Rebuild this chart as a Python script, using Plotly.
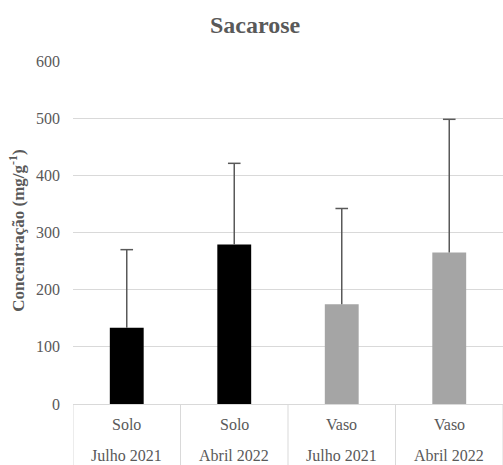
import plotly.graph_objects as go

# Sucrose concentration per location and sampling date
locais = ["Solo", "Solo", "Vaso", "Vaso"]
datas = ["Julho 2021", "Abril 2022", "Julho 2021", "Abril 2022"]
media = [133.5, 279, 174.5, 265]
desvio = [136.5, 142, 167.5, 233]
cores = ["#000000", "#000000", "#a5a5a5", "#a5a5a5"]

FONTE = "'Times New Roman', 'Liberation Serif', serif"
CINZA = "#595959"
LINHA = "#d9d9d9"

idx = list(range(len(media)))
topo = [m + d for m, d in zip(media, desvio)]

fig = go.Figure()
fig.add_trace(
    go.Bar(
        x=idx,
        y=media,
        width=0.315,
        marker=dict(color=cores, line=dict(width=0)),
        hoverinfo="skip",
    )
)

# upper-only error bars: stem from bar top to mean + sd, cap at the end
stem_x, stem_y = [], []
for i, m, t in zip(idx, media, topo):
    stem_x += [i, i, None]
    stem_y += [m, t, None]
fig.add_trace(
    go.Scatter(x=stem_x, y=stem_y, mode="lines",
               line=dict(color=CINZA, width=1.5), hoverinfo="skip")
)
fig.add_trace(
    go.Scatter(x=idx, y=topo, mode="markers",
               marker=dict(symbol="line-ew", size=9,
                           line=dict(color=CINZA, width=1.5)),
               hoverinfo="skip")
)

# two-row category labels under each bar
for i, (loc, dt) in enumerate(zip(locais, datas)):
    fig.add_annotation(x=i, y=-0.061, xref="x", yref="paper", text=loc,
                       showarrow=False, yanchor="middle",
                       font=dict(family=FONTE, size=16, color=CINZA))
    fig.add_annotation(x=i, y=-0.149, xref="x", yref="paper", text=dt,
                       showarrow=False, yanchor="middle",
                       font=dict(family=FONTE, size=16, color=CINZA))

# vertical dividers between categories
for b in [i - 0.5 for i in idx] + [len(idx) - 0.5]:
    fig.add_shape(type="line", xref="x", yref="paper", x0=b, x1=b,
                  y0=0, y1=-0.2, line=dict(color=LINHA, width=1))

# y-axis title, placed left of the tick labels
fig.add_annotation(
    x=(17 - 73) / 430, y=0.505, xref="paper", yref="paper",
    text="<b>Concentração (mg/g<sup>-1</sup>)</b>",
    showarrow=False, textangle=-90, xanchor="center", yanchor="middle",
    font=dict(family=FONTE, size=17, color=CINZA),
)

fig.update_layout(
    width=503,
    height=465,
    margin=dict(l=73, r=0, t=61, b=61),
    paper_bgcolor="white",
    plot_bgcolor="white",
    showlegend=False,
    title=dict(
        text="<b>Sacarose</b>",
        xref="container", x=0.507, xanchor="center",
        yref="container", y=1 - 25 / 465, yanchor="middle",
        font=dict(family=FONTE, size=24, color=CINZA),
    ),
    xaxis=dict(
        range=[-0.5, len(idx) - 0.5],
        showticklabels=False,
        showgrid=False,
        zeroline=False,
        showline=False,
        ticks="",
        fixedrange=True,
    ),
    yaxis=dict(
        range=[0, 600],
        tickvals=[0, 100, 200, 300, 400, 500, 600],
        showgrid=True,
        gridcolor=LINHA,
        gridwidth=1,
        zeroline=True,
        zerolinecolor=LINHA,
        zerolinewidth=1,
        showline=False,
        ticks="",
        ticklabelstandoff=12,
        tickfont=dict(family=FONTE, size=16, color=CINZA),
        fixedrange=True,
    ),
)

fig.write_html("out.html")
